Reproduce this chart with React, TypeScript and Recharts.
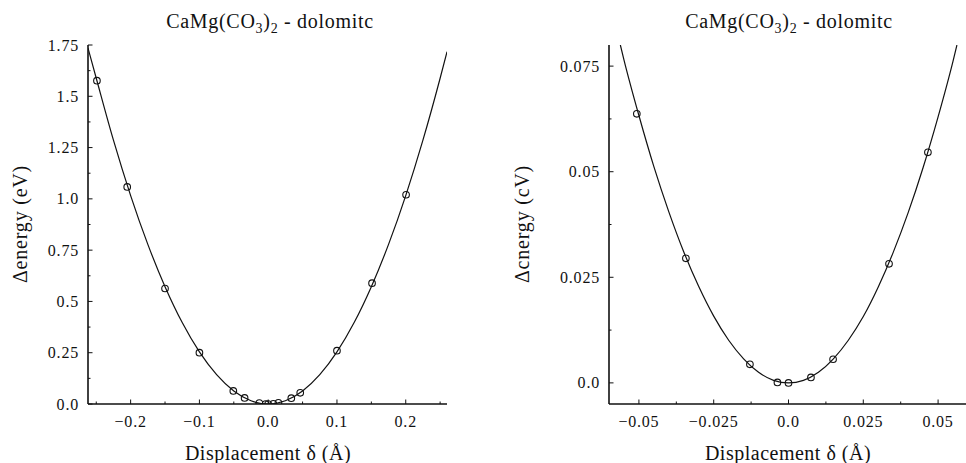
import React from "react";
import { ComposedChart, Line, Scatter, XAxis, YAxis } from "recharts";

// ---------- data ----------
// Left panel: full range
const leftCurveX = [-0.262, -0.25, -0.225, -0.2, -0.175, -0.15, -0.125, -0.1, -0.075, -0.05, -0.025, 0, 0.025, 0.05, 0.075, 0.1, 0.125, 0.15, 0.175, 0.2, 0.225, 0.25, 0.26];
const leftCurveE = [1.735, 1.588, 1.286, 1.016, 0.778, 0.572, 0.397, 0.254, 0.143, 0.0635, 0.0159, 0, 0.0159, 0.0635, 0.143, 0.254, 0.397, 0.572, 0.778, 1.016, 1.286, 1.588, 1.717];
const leftPointsX = [-0.249, -0.205, -0.15, -0.1, -0.0507, -0.0343, -0.0129, -0.0037, 0, 0.0075, 0.0149, 0.0336, 0.0466, 0.1, 0.151, 0.2005];
const leftPointsE = [1.576, 1.058, 0.563, 0.25, 0.0637, 0.0295, 0.0044, 0.0001, 0, 0.0013, 0.0056, 0.0282, 0.0546, 0.26, 0.589, 1.02];

// Right panel: zoom near the minimum
const rightCurveX = [-0.0562, -0.055, -0.05, -0.045, -0.04, -0.035, -0.03, -0.025, -0.02, -0.015, -0.01, -0.005, 0, 0.005, 0.01, 0.015, 0.02, 0.025, 0.03, 0.035, 0.04, 0.045, 0.05, 0.055, 0.0563];
const rightCurveE = [0.08, 0.0765, 0.0633, 0.0512, 0.0405, 0.031, 0.0228, 0.0158, 0.0101, 0.0057, 0.0025, 0.0006, 0, 0.0006, 0.0025, 0.0057, 0.0101, 0.0157, 0.0227, 0.0309, 0.0403, 0.051, 0.063, 0.0762, 0.08];
const rightPointsX = [-0.0507, -0.0343, -0.0129, -0.0037, 0, 0.0075, 0.0149, 0.0336, 0.0466];
const rightPointsE = [0.0637, 0.0295, 0.0044, 0.0001, 0, 0.0013, 0.0056, 0.0282, 0.0546];

// ticks
const leftXTicks = [-0.25, -0.2, -0.15, -0.1, -0.05, 0, 0.05, 0.1, 0.15, 0.2, 0.25];
const leftXMajor = [-0.2, -0.1, 0, 0.1, 0.2];
const leftXLabels = ["\u22120.2", "\u22120.1", "0.0", "0.1", "0.2"];
const leftYTicks = [0, 0.125, 0.25, 0.375, 0.5, 0.625, 0.75, 0.875, 1.0, 1.125, 1.25, 1.375, 1.5, 1.625, 1.75];
const leftYMajor = [0, 0.25, 0.5, 0.75, 1.0, 1.25, 1.5, 1.75];
const leftYLabels = ["0.0", "0.25", "0.5", "0.75", "1.0", "1.25", "1.5", "1.75"];

const rightXTicks = [-0.05, -0.0375, -0.025, -0.0125, 0, 0.0125, 0.025, 0.0375, 0.05];
const rightXMajor = [-0.05, -0.025, 0, 0.025, 0.05];
const rightXLabels = ["\u22120.05", "\u22120.025", "0.0", "0.025", "0.05"];
const rightYTicks = [0, 0.0125, 0.025, 0.0375, 0.05, 0.0625, 0.075];
const rightYMajor = [0, 0.025, 0.05, 0.075];
const rightYLabels = ["0.0", "0.025", "0.05", "0.075"];

const titleMain = "CaMg(CO";
const titleTail = " - dolomitc";
const xLabel = "Displacement \u03b4 (\u00c5)";
const leftYLabel = "\u0394energy (eV)";
const rightYLabel = "\u0394cnergy (cV)";

const zip = (xs: number[], ys: number[]) => xs.map((x, i) => ({ x, y: ys[i] }));
const leftCurve = zip(leftCurveX, leftCurveE);
const leftPts = zip(leftPointsX, leftPointsE);
const rightCurve = zip(rightCurveX, rightCurveE);
const rightPts = zip(rightPointsX, rightPointsE);

const FONT = '"Liberation Serif", "Times New Roman", Times, "DejaVu Serif", serif';
const INK = "#111";
const txt = (size: number, spacing: number) => ({ fontFamily: FONT, fontSize: size, letterSpacing: spacing });

type Orient = "bottom" | "left" | "top" | "right";

function makeTick(orient: Orient, majors: number[], labels: string[], showLabels: boolean) {
  return (props: any) => {
    const { x, y, payload } = props;
    const v = payload?.value;
    const idx = majors.findIndex((m) => Math.abs(m - v) < 1e-9);
    const isMajor = idx >= 0;
    const len = isMajor ? 4.5 : 2.5;
    let line: any = null;
    let label: any = null;
    if (orient === "bottom") {
      line = <line x1={x} y1={y} x2={x} y2={y - len} stroke={INK} strokeWidth={1} />;
      if (showLabels && isMajor)
        label = (
          <text x={x} y={y + 23} textAnchor="middle" style={txt(16, 0.8)} fill={INK}>
            {labels[idx]}
          </text>
        );
    } else if (orient === "left") {
      line = <line x1={x} y1={y} x2={x + len} y2={y} stroke={INK} strokeWidth={1} />;
      if (showLabels && isMajor)
        label = (
          <text x={x - 9} y={y + 5.5} textAnchor="end" style={txt(16, 0.8)} fill={INK}>
            {labels[idx]}
          </text>
        );
    } else if (orient === "top") {
      line = <line x1={x} y1={y} x2={x} y2={y + len} stroke={INK} strokeWidth={1} />;
    } else {
      line = <line x1={x} y1={y} x2={x - len} y2={y} stroke={INK} strokeWidth={1} />;
    }
    return (
      <g>
        {line}
        {label}
      </g>
    );
  };
}

const Ring = (props: any) => {
  const { cx, cy } = props;
  if (cx == null || cy == null) return <g />;
  return <circle cx={cx} cy={cy} r={3.3} fill="none" stroke={INK} strokeWidth={1.1} />;
};

interface PanelProps {
  width: number;
  margin: { top: number; right: number; bottom: number; left: number };
  yAxisWidth: number;
  xDomain: [number, number];
  yDomain: [number, number];
  xTicks: number[];
  xMajor: number[];
  xLabels: string[];
  yTicks: number[];
  yMajor: number[];
  yLabels: string[];
  curve: { x: number; y: number }[];
  pts: { x: number; y: number }[];
}

function Panel(p: PanelProps) {
  return (
    <ComposedChart width={p.width} height={463} margin={p.margin}>
      <XAxis
        xAxisId="b"
        orientation="bottom"
        type="number"
        dataKey="x"
        domain={p.xDomain}
        allowDataOverflow
        ticks={p.xTicks}
        interval={0}
        tickLine={false}
        tickSize={0}
        tickMargin={0}
        height={59}
        axisLine={{ stroke: INK, strokeWidth: 1.6 }}
        tick={makeTick("bottom", p.xMajor, p.xLabels, true)}
      />
      <XAxis
        xAxisId="t"
        orientation="top"
        type="number"
        dataKey="x"
        domain={p.xDomain}
        allowDataOverflow
        ticks={p.xTicks}
        interval={0}
        tickLine={false}
        tickSize={0}
        tickMargin={0}
        height={0}
        axisLine={{ stroke: INK, strokeWidth: 1.2 }}
        tick={makeTick("top", p.xMajor, p.xLabels, false)}
      />
      <YAxis
        yAxisId="l"
        orientation="left"
        type="number"
        dataKey="y"
        domain={p.yDomain}
        allowDataOverflow
        ticks={p.yTicks}
        interval={0}
        tickLine={false}
        tickSize={0}
        tickMargin={0}
        width={p.yAxisWidth}
        axisLine={{ stroke: INK, strokeWidth: 1.6 }}
        tick={makeTick("left", p.yMajor, p.yLabels, true)}
      />
      <YAxis
        yAxisId="r"
        orientation="right"
        type="number"
        dataKey="y"
        domain={p.yDomain}
        allowDataOverflow
        ticks={p.yTicks}
        interval={0}
        tickLine={false}
        tickSize={0}
        tickMargin={0}
        width={0}
        axisLine={{ stroke: INK, strokeWidth: 1.2 }}
        tick={makeTick("right", p.yMajor, p.yLabels, false)}
      />
      <Line
        xAxisId="b"
        yAxisId="l"
        data={p.curve}
        dataKey="y"
        type="monotone"
        dot={false}
        activeDot={false}
        stroke={INK}
        strokeWidth={1.2}
        isAnimationActive={false}
      />
      <Line
        xAxisId="t"
        yAxisId="r"
        data={p.curve}
        dataKey="y"
        type="monotone"
        dot={false}
        activeDot={false}
        stroke="none"
        isAnimationActive={false}
      />
      <Scatter xAxisId="b" yAxisId="l" data={p.pts} dataKey="y" shape={Ring} isAnimationActive={false} />
    </ComposedChart>
  );
}

function Title({ cx }: { cx: number }) {
  return (
    <text x={cx} y={28} textAnchor="middle" style={txt(20, 0.7)} fill={INK}>
      {titleMain}
      <tspan dy={5} style={{ fontSize: 14 }}>3</tspan>
      <tspan dy={-5}>)</tspan>
      <tspan dy={5} style={{ fontSize: 14 }}>2</tspan>
      <tspan dy={-5}>{titleTail}</tspan>
    </text>
  );
}

export default function App() {
  return (
    <div
      style={{
        position: "absolute",
        left: 0,
        top: 0,
        width: 966,
        height: 463,
        overflow: "hidden",
        background: "#fff",
      }}
    >
      <div style={{ position: "absolute", left: 0, top: 0 }}>
        <Panel
          width={480}
          margin={{ top: 45, right: 33, bottom: 0, left: 0 }}
          yAxisWidth={88}
          xDomain={[-0.262, 0.26]}
          yDomain={[0, 1.75]}
          xTicks={leftXTicks}
          xMajor={leftXMajor}
          xLabels={leftXLabels}
          yTicks={leftYTicks}
          yMajor={leftYMajor}
          yLabels={leftYLabels}
          curve={leftCurve}
          pts={leftPts}
        />
      </div>
      <div style={{ position: "absolute", left: 480, top: 0 }}>
        <Panel
          width={488}
          margin={{ top: 45, right: 0, bottom: 0, left: 0 }}
          yAxisWidth={129}
          xDomain={[-0.06, 0.06]}
          yDomain={[-0.005, 0.08]}
          xTicks={rightXTicks}
          xMajor={rightXMajor}
          xLabels={rightXLabels}
          yTicks={rightYTicks}
          yMajor={rightYMajor}
          yLabels={rightYLabels}
          curve={rightCurve}
          pts={rightPts}
        />
      </div>
      <svg
        width={966}
        height={463}
        style={{ position: "absolute", left: 0, top: 0, pointerEvents: "none" }}
      >
        <Title cx={270} />
        <Title cx={789} />
        <text x={268} y={460} textAnchor="middle" style={txt(20, 0.5)} fill={INK}>
          {xLabel}
        </text>
        <text x={788} y={460} textAnchor="middle" style={txt(20, 0.5)} fill={INK}>
          {xLabel}
        </text>
        <text transform="translate(27,224) rotate(-90)" textAnchor="middle" style={txt(20, 0.8)} fill={INK}>
          {leftYLabel}
        </text>
        <text transform="translate(529,224) rotate(-90)" textAnchor="middle" style={txt(20, 0.8)} fill={INK}>
          {rightYLabel}
        </text>
      </svg>
    </div>
  );
}
